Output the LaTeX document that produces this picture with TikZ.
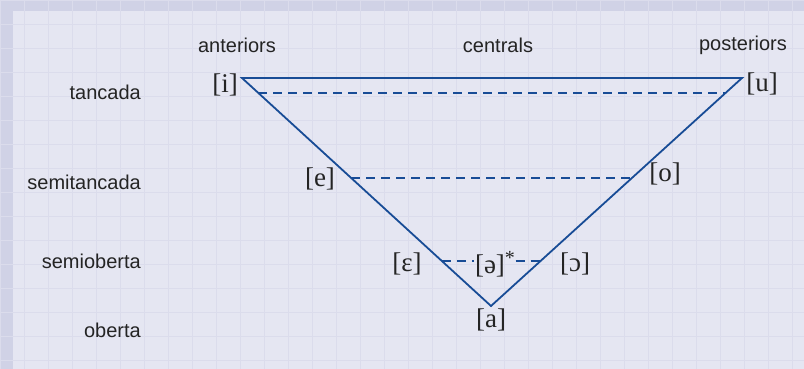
\documentclass[tikz,border=0pt]{standalone}
\usepackage{fontspec}
\setmainfont{Liberation Serif}
\setsansfont{Liberation Sans}
\definecolor{vowelblue}{RGB}{24,76,150}
\definecolor{paper}{RGB}{229,230,242}
\definecolor{framec}{RGB}{208,210,230}
\definecolor{gridc}{RGB}{219,220,236}
\definecolor{ink}{RGB}{36,36,36}
\tikzset{
  edge/.style={line width=1.8pt,draw=vowelblue,line join=miter},
  level/.style={line width=1.8pt,draw=vowelblue,dash pattern=on 9pt off 6pt},
  head/.style={font=\sffamily\fontsize{20}{24}\selectfont,text=ink,inner sep=0pt},
  row/.style={head,anchor=east},
  ipa/.style={font=\fontsize{27}{31}\selectfont,text=ink,inner sep=0.5pt}
}

\begin{document}
\begin{tikzpicture}[x=1pt,y=-1pt]
  \useasboundingbox (0,0) rectangle (804,369);
  % paper and grid
  \fill[framec] (0,0) rectangle (804,369);
  \fill[paper] (13,11) rectangle (804,369);
  \draw[gridc,line width=0.9pt,step=24pt] (0,0) grid (804,369);

  \coordinate (I) at (242,78);
  \coordinate (U) at (742,78);
  \coordinate (A) at (491,306);
  \coordinate (t1) at (258.4,93);
  \coordinate (t2) at (725.5,93);
  \coordinate (s1) at (351.2,178);
  \coordinate (s2) at (631.9,178);
  \coordinate (o1) at (441.9,261);
  \coordinate (o2) at (540.5,261);

  % column and row heads
  \node[head] (ant) at (237,45) {anteriors};
  \node[head] (cen) at (498,45) {centrals};
  \node[head] (pos) at (743,45) {posteriors};
  \node[row] (tan) at (141,92) {tancada};
  \node[row] (semt) at (141,182) {semitancada};
  \node[row] (semo) at (141,261) {semioberta};
  \node[row] (obe) at (141,330) {oberta};

  % vowels
  \node[ipa] (vi) at (225,85) {[i]};
  \node[ipa] (vu) at (762,84) {[u]};
  \node[ipa] (ve) at (320,179) {[e]};
  \node[ipa] (vo) at (665,174) {[o]};
  \node[ipa] (veps) at (407,264) {[ɛ]};
  \node[ipa] (vschwa) at (495,264) {[ə]\raisebox{0.7ex}{\fontsize{20}{20}\selectfont *}};
  \node[ipa] (vopen) at (575,264) {[ɔ]};
  \node[ipa] (va) at (491,320) {[a]};

  \draw[edge] (I)--(U)--(A)--cycle;
  \draw[level] (t1)--(t2);
  \draw[level] (s1)--(s2);
  \draw[level] (o1)--(o1 -| vschwa.west);
  \draw[level] (o2 -| vschwa.east)--(o2);
\end{tikzpicture}
\end{document}
